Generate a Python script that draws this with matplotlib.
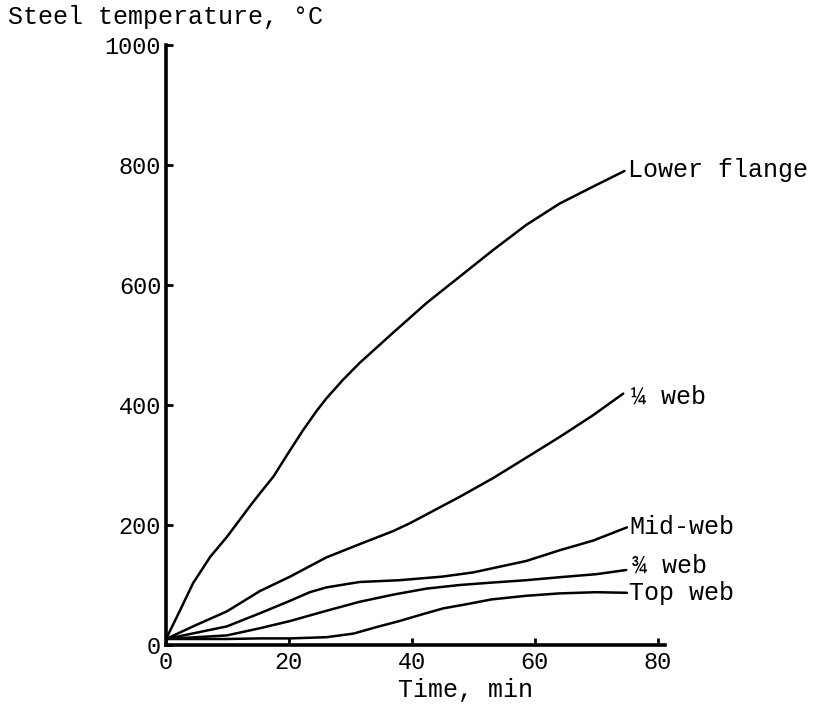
import matplotlib
matplotlib.use("Agg")
import matplotlib.pyplot as plt

# ---- data ----
lower_t = [0, 2.3, 4.4, 7.2, 9.9, 13.7, 15.3, 17.5, 19.9, 22.3, 24.5, 26.1, 28.8, 31.5, 36.9, 42.4, 47.8, 53.2, 58.6, 64.1, 69.5, 74.6]
lower_T = [10, 58, 103, 147, 180, 232, 253, 281, 320, 358, 390, 411, 442, 470, 520, 570, 614, 658, 700, 736, 764, 790]

quarter_t = [0, 4.4, 9.9, 15.3, 20.2, 26.1, 31.5, 37, 39.7, 47.8, 53.2, 59.7, 64.1, 69.5, 74.4]
quarter_T = [10, 31, 56, 90, 114, 146, 168, 190, 203, 247, 278, 319, 347, 383, 419]

mid_t = [0, 9.9, 15.3, 19.8, 23.4, 26.1, 31.5, 38, 45, 50, 58.6, 64.1, 69.5, 75]
mid_T = [10, 31, 53, 72, 88, 96, 105, 108, 114, 121, 140, 158, 174, 196]

three_t = [0, 9.9, 15.3, 20.2, 26.1, 31.5, 37, 42.4, 47.8, 53, 58.6, 64.1, 70, 74.9]
three_T = [10, 16, 28, 40, 57, 72, 84, 94, 100, 104, 108, 113, 118, 125]

top_t = [0, 9.9, 15.3, 20.2, 26.1, 30.5, 34.3, 38, 42, 45.1, 48.9, 53, 58.6, 64, 70, 75]
top_T = [10, 10, 11, 11, 13, 19, 30, 40, 52, 61, 68, 76, 82, 86, 88, 87]

series_names = ["Lower flange", "\u00bc web", "Mid-web", "\u00be web", "Top web"]
x_ticks = [0, 20, 40, 60, 80]
y_ticks = [0, 200, 400, 600, 800, 1000]

# ---- figure ----
FONT = "Liberation Mono"
fig = plt.figure(figsize=(8.18, 7.04), dpi=100)
ax = fig.add_axes([166 / 818, 59 / 704, (665 - 166) / 818, (659 - 59) / 704])

series = [(lower_t, lower_T), (quarter_t, quarter_T), (mid_t, mid_T),
          (three_t, three_T), (top_t, top_T)]
label_offsets = [(0.5, 2), (1.2, -6), (0.4, 1), (1.0, 7), (0.4, 0)]

for (t, T), name, (dx, dy) in zip(series, series_names, label_offsets):
    ax.plot(t, T, color="black", lw=1.8, solid_capstyle="round",
            solid_joinstyle="round")
    ax.text(t[-1] + dx, T[-1] + dy, name, fontsize=18, family=FONT,
            ha="left", va="center", color="black")

ax.set_xlim(0, 81.2)
ax.set_ylim(0, 1000)
ax.set_xticks(x_ticks)
ax.set_yticks(y_ticks)
ax.set_xticklabels([str(v) for v in x_ticks], family=FONT, fontsize=17)
ax.set_yticklabels([str(v) for v in y_ticks], family=FONT, fontsize=17)
ax.tick_params(axis="both", direction="in", length=5, width=2, color="black")
ax.tick_params(axis="x", pad=4)
ax.tick_params(axis="y", pad=3.5)

for s in ["top", "right"]:
    ax.spines[s].set_visible(False)
for s in ["left", "bottom"]:
    ax.spines[s].set_linewidth(2.6)
    ax.spines[s].set_color("black")
ax.patch.set_alpha(0)

fig.text(8 / 818, 1 - 17 / 704, "Steel temperature, \u00b0C", family=FONT,
         fontsize=18, ha="left", va="center")
fig.text(466 / 818, 1 - 690 / 704, "Time, min", family=FONT,
         fontsize=18, ha="center", va="center")

fig.savefig("out.png", dpi=100)
